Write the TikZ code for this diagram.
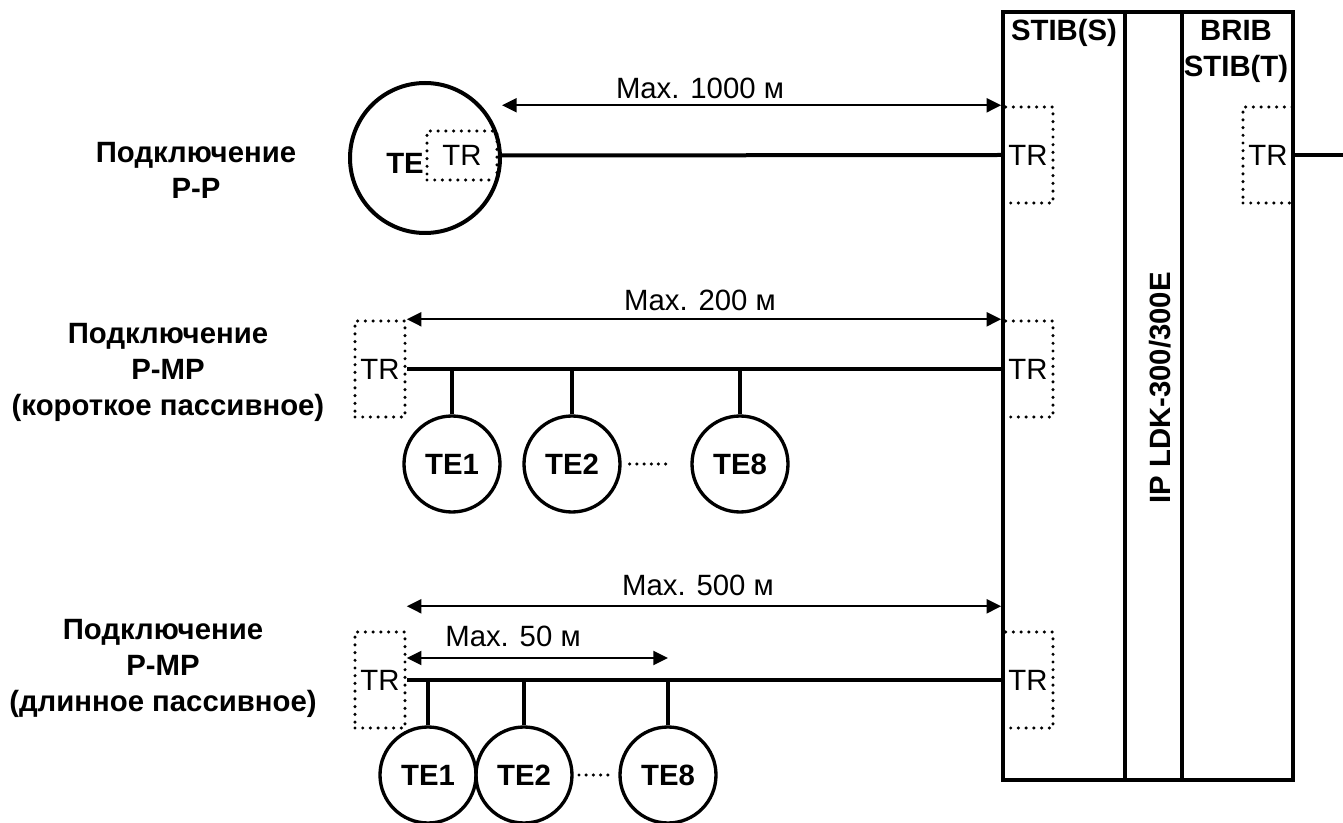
\documentclass[tikz,border=0pt]{standalone}
\usepackage{fontspec}
\setmainfont{Liberation Sans}
\usetikzlibrary{arrows.meta, positioning, calc}

\newcommand{\diagfont}{\fontsize{22}{27}\selectfont}

\tikzset{
  col/.style={draw, line width=3pt, minimum height=576pt, outer sep=0pt, inner sep=0pt},
  trbox/.style={draw, dash pattern=on 0pt off 5.8pt, line cap=round, line width=2.6pt,
    minimum width=37.5pt, minimum height=72pt, inner sep=0pt},
  term/.style={draw, circle, line width=2.5pt, minimum size=72pt, inner sep=0pt, font=\diagfont\bfseries},
  bus/.style={line width=3pt},
  drop/.style={line width=2.3pt},
  dots/.style={dash pattern=on 0pt off 5.4pt, line cap=round, line width=2.6pt},
  dim/.style={{Triangle[length=11pt,width=10.5pt]}-{Triangle[length=11pt,width=10.5pt]}, line width=1.7pt},
  lbl/.style={align=center, font=\diagfont\bfseries}
}

\begin{document}
\begin{tikzpicture}[x=0.75pt, y=-0.75pt, every node/.style={font=\diagfont}]
    \useasboundingbox (0,0) rectangle (1343,823);

    % station
    \node[col, minimum width=91.5pt, anchor=north west] (stibS) at (1003,12) {};
    \node[col, minimum width=42.75pt, right=0pt of stibS] (ip) {};
    \node[col, minimum width=83.25pt, right=0pt of ip] (brib) {};
    \node[lbl] (stibSlbl) at (1064,33) {STIB(S)};
    \node[lbl] (bribLbl) at (1236,51) {BRIB\\STIB(T)};
    \node[lbl, rotate=90] (ipLbl) at (1160,388) {IP LDK-300/300E};

    \node[trbox] (trS1) at (1028,155) {TR};
    \node[trbox] (trS2) at (1028,369) {TR};
    \node[trbox] (trS3) at (1028,680) {TR};
    \node[trbox] (trT) at (1268,155) {TR};
    \coordinate (out) at (1343,155);
    \draw[bus] (trT.east) -- (out);

    % P-P
    \node[lbl] (pp) at (196,170) {Подключение\\P-P};
    \node[term, line width=3pt, minimum size=112.5pt] (te) at (425,158) {};
    \node[trbox, minimum width=52.5pt, minimum height=36.75pt] (trTE) at (462,155.5) {TR};
    \node[font=\diagfont\bfseries] (teLbl) at (405,163) {TE};
    \draw[bus] (trTE.east) -- (trS1.west);
    \draw[dim] (te.east |- trS1.north) -- (trS1.north west);
    \node (max1000) at (700,88) {Max. 1000 м};

    % P-MP short
    \node[lbl] (pmpShort) at (168,372) {Подключение\\P-MP\\(короткое пассивное)};
    \node[trbox] (trL2) at (380,369) {TR};
    \node[term] (te21) at (452,464) {TE1};
    \node[term] (te22) at (572,464) {TE2};
    \node[term] (te28) at (740,464) {TE8};
    \draw[bus] (trL2.east) -- (trS2.west);
    \foreach \t in {te21,te22,te28}
        \draw[drop] (\t.north) -- (\t.north |- trL2.east);
    \draw[dots, shorten <=6pt, shorten >=15pt] (te22.east) -- (te28.west);
    \draw[dim] (trL2.north east) -- (trS2.north west);
    \node (max200) at (700,300) {Max. 200 м};

    % P-MP long
    \node[lbl] (pmpLong) at (163,668) {Подключение\\P-MP\\(длинное пассивное)};
    \node[trbox] (trL3) at (380,680) {TR};
    \node[term] (te31) at (428,775) {TE1};
    \node[term] (te32) at (524,775) {TE2};
    \node[term] (te38) at (668,775) {TE8};
    \draw[bus] (trL3.east) -- (trS3.west);
    \foreach \t in {te31,te32,te38}
        \draw[drop] (\t.north) -- (\t.north |- trL3.east);
    \draw[dots, shorten <=4pt, shorten >=4pt] (te32.east) -- (te38.west);
    \draw[dim] ($(trL3.north east)+(0,-24)$) -- ($(trS3.north west)+(0,-24)$);
    \coordinate (m50) at ($(trL3.east)+(0,-22)$);
    \draw[dim] (m50) -- (m50 -| te38);
    \node (max500) at (698,585) {Max. 500 м};
    \node (max50) at (513,636) {Max. 50 м};
\end{tikzpicture}
\end{document}
